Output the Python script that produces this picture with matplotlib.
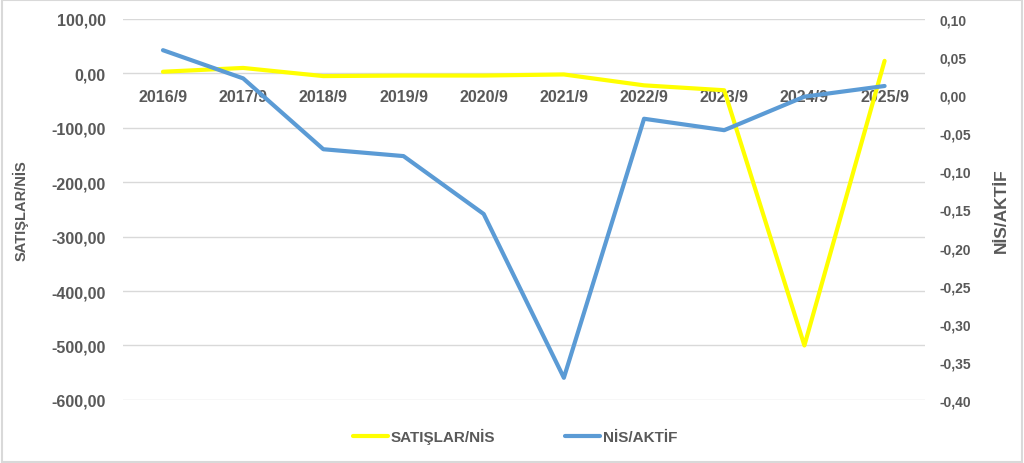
import matplotlib.pyplot as plt
from matplotlib.patches import Rectangle
from matplotlib.ticker import FixedLocator, FuncFormatter

years = ["2016/9", "2017/9", "2018/9", "2019/9", "2020/9",
         "2021/9", "2022/9", "2023/9", "2024/9", "2025/9"]
satislar_nis = [3, 10, -5, -4, -4, -2, -22, -31, -500, 23]
nis_aktif = [0.059, 0.022, -0.071, -0.080, -0.156, -0.371, -0.031, -0.046, -0.002, 0.012]

left_ticks = [100, 0, -100, -200, -300, -400, -500, -600]
right_ticks = [0.10, 0.05, 0.0, -0.05, -0.10, -0.15, -0.20, -0.25, -0.30, -0.35, -0.40]

plt.rcParams["font.family"] = ["Liberation Sans", "DejaVu Sans"]
plt.rcParams["font.weight"] = "bold"
text_color = "#595959"
grid_color = "#d9d9d9"


def tr_fmt(v, _pos):
    return f"{v:.2f}".replace(".", ",")


fig = plt.figure(figsize=(10.24, 4.64), dpi=100)
fig.patches.append(Rectangle((0.002, 0.003), 0.996, 0.994, transform=fig.transFigure,
                             fill=False, edgecolor=grid_color, linewidth=1.5))
ax = fig.add_axes([0.120, 0.136, 0.783, 0.821])
ax2 = ax.twinx()

x = list(range(len(years)))
ax.plot(x, satislar_nis, color="#FFFF00", linewidth=3, label="SATIŞLAR/NİS",
        solid_capstyle="round", zorder=3)
ax2.plot(x, nis_aktif, color="#5B9BD5", linewidth=3, label="NİS/AKTİF",
         solid_capstyle="round", zorder=3)

ax.set_xlim(-0.5, len(years) - 0.5)
ax.set_ylim(-600, 100)
ax2.set_ylim(-0.40, 0.10)

ax.yaxis.set_major_locator(FixedLocator(left_ticks))
ax.yaxis.set_major_formatter(FuncFormatter(tr_fmt))
ax2.yaxis.set_major_locator(FixedLocator(right_ticks))
ax2.yaxis.set_major_formatter(FuncFormatter(tr_fmt))
ax.grid(axis="y", color=grid_color, linewidth=1)
ax.set_axisbelow(True)

# category labels sit just under the zero line
ax.spines["bottom"].set_position(("data", 0))
ax.set_xticks(x)
ax.set_xticklabels(years)
for a in (ax, ax2):
    for s in a.spines.values():
        s.set_visible(False)
ax.tick_params(axis="x", length=0, pad=11, labelsize=11.5, labelcolor=text_color)
ax.tick_params(axis="y", length=0, pad=12.5, labelsize=11.5, labelcolor=text_color)
ax2.tick_params(axis="y", length=0, pad=11, labelsize=10, labelcolor=text_color)

ax.set_ylabel("SATIŞLAR/NİS", fontsize=10.5, fontweight="bold", color=text_color, labelpad=16)
ax2.set_ylabel("NİS/AKTİF", fontsize=12.5, fontweight="bold", color=text_color, labelpad=16)

h1, l1 = ax.get_legend_handles_labels()
h2, l2 = ax2.get_legend_handles_labels()
leg = fig.legend(h1 + h2, l1 + l2, loc="center", bbox_to_anchor=(0.503, 0.058), ncol=2,
                 frameon=False, handlelength=2.3, handletextpad=0.15, columnspacing=4.6,
                 prop={"weight": "bold", "size": 11})
for t in leg.get_texts():
    t.set_color(text_color)

fig.savefig("out.png", dpi=100)
